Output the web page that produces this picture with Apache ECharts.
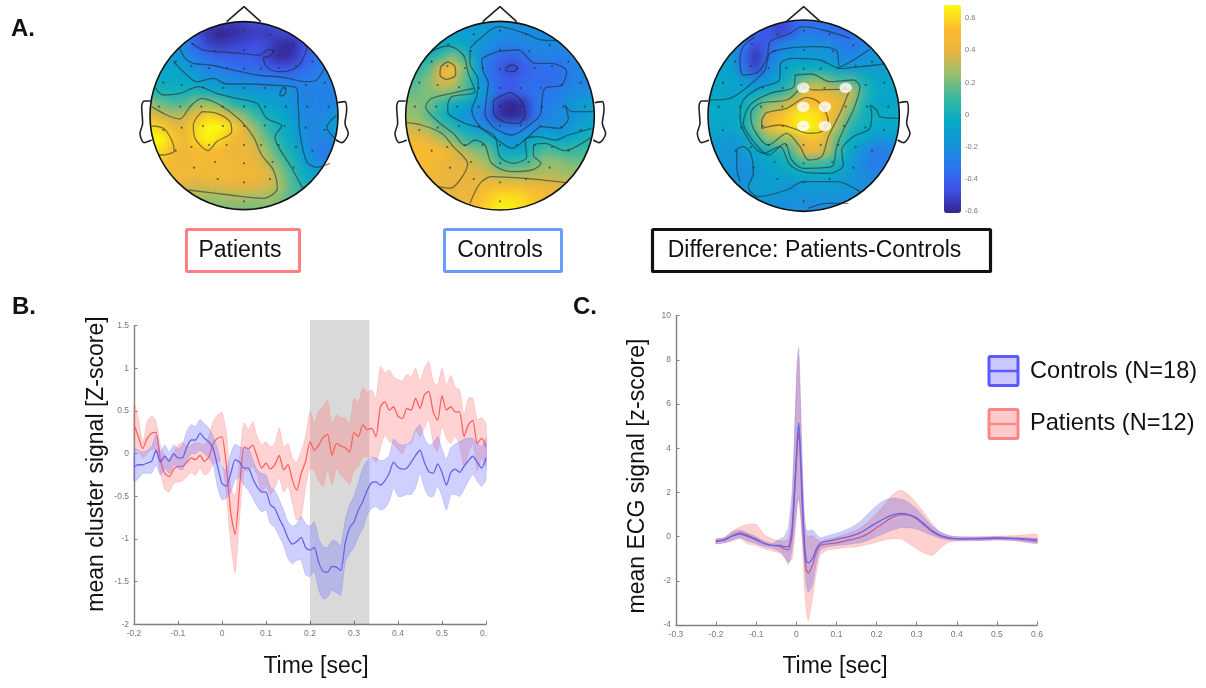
<!DOCTYPE html>
<html>
<head>
<meta charset="utf-8">
<script src="https://cdn.jsdelivr.net/npm/echarts@6/dist/echarts.min.js"></script>
<style>
html,body{margin:0;padding:0;background:#fff}
#chart{width:1206px;height:688px;isolation:isolate}
</style>
</head>
<body>
<div id="chart"></div>
<script>
// ---------- Panel A: scalp maps, values x100, 17 x 17 nodes, top row first
const patientsMap = [
[-30,-30,-35,-40,-45,-50,-52,-55,-52,-50,-48,-45,-42,-40,-35,-30,-30],
[-25,-25,-30,-35,-45,-58,-62,-60,-56,-54,-55,-52,-50,-48,-40,-35,-30],
[-20,-20,-22,-28,-42,-52,-55,-52,-50,-48,-50,-58,-60,-50,-38,-32,-30],
[-15,-15,-12,-22,-32,-38,-42,-43,-42,-44,-52,-60,-58,-48,-38,-32,-30],
[-12,-10,-8,-12,-22,-28,-32,-36,-38,-38,-42,-46,-45,-40,-34,-30,-28],
[-5,-5,-6,-5,-10,-18,-20,-24,-24,-26,-28,-30,-32,-30,-28,-28,-28],
[5,3,0,0,3,-2,-8,-12,-14,-16,-18,-16,-20,-28,-28,-28,-28],
[25,18,12,14,25,25,18,5,0,-4,-10,-12,-18,-26,-28,-28,-28],
[42,36,30,34,44,58,52,34,22,8,0,-4,-14,-24,-26,-24,-15],
[62,56,44,42,60,70,70,58,40,22,8,-2,-8,-22,-26,-18,-12],
[70,68,56,44,60,68,60,46,42,32,16,4,-6,-20,-28,-26,-22],
[66,60,48,44,48,50,46,42,44,38,24,10,0,-14,-28,-32,-30],
[52,50,46,45,47,47,46,44,44,42,33,18,5,-8,-20,-28,-30],
[47,46,45,45,46,47,47,46,46,44,40,26,12,-2,-10,-15,-20],
[40,40,38,38,35,37,38,40,40,38,36,30,15,3,-2,-5,-8],
[30,30,28,28,28,26,26,28,28,26,28,22,14,8,3,0,0],
[25,25,22,22,22,22,20,20,20,20,20,18,14,10,5,3,0]];
const controlsMap = [
[-18,-18,-16,-16,-16,-18,-18,-18,-18,-20,-22,-22,-24,-24,-24,-24,-24],
[-10,-10,-10,-10,-12,-12,-12,-14,-20,-22,-24,-22,-24,-24,-24,-24,-24],
[-6,-6,-6,-5,-2,-8,-16,-20,-28,-28,-26,-24,-24,-24,-24,-24,-24],
[0,-2,0,10,22,8,-14,-30,-38,-42,-38,-30,-28,-30,-28,-26,-24],
[5,5,15,40,50,22,-6,-36,-44,-52,-44,-38,-36,-36,-30,-26,-24],
[10,14,22,38,36,16,-4,-30,-42,-44,-40,-38,-38,-36,-30,-26,-24],
[16,18,22,25,22,14,-6,-22,-40,-46,-38,-34,-34,-30,-26,-24,-22],
[22,22,18,8,-2,-8,-16,-30,-56,-62,-56,-36,-30,-26,-16,-12,-10],
[25,24,14,2,-8,-18,-26,-40,-58,-64,-58,-36,-28,-22,-22,-16,-10],
[36,32,26,14,4,-6,-16,-24,-32,-36,-32,-26,-22,-22,-16,-8,-6],
[46,44,38,30,22,8,2,2,-12,-20,-14,-4,-4,-8,-6,0,4],
[50,50,50,50,40,30,22,18,-2,-8,-6,8,14,10,8,10,12],
[48,50,48,44,40,38,32,26,10,8,10,18,24,24,20,18,18],
[45,46,44,42,40,40,38,35,30,28,28,30,30,28,26,26,26],
[42,42,42,40,40,40,42,48,50,48,46,44,40,38,38,36,36],
[40,40,40,40,40,42,48,56,62,62,60,54,50,46,42,40,40],
[40,40,40,40,42,46,52,60,66,66,62,56,50,46,42,40,40]];
const differenceMap = [
[-26,-28,-30,-34,-38,-44,-50,-44,-38,-38,-36,-36,-34,-32,-28,-26,-24],
[-22,-22,-24,-28,-40,-46,-52,-44,-30,-34,-36,-38,-36,-32,-28,-26,-24],
[-16,-18,-20,-32,-48,-44,-30,-24,-22,-22,-22,-32,-34,-30,-24,-22,-20],
[-12,-14,-16,-38,-56,-38,-22,-18,-16,-16,-16,-24,-26,-22,-18,-16,-14],
[-10,-10,-12,-36,-52,-30,-14,-4,-4,-4,-6,-14,-16,-14,-14,-12,-12],
[-6,-6,-8,-16,-24,-18,-8,2,18,22,18,10,12,0,-6,-8,-8],
[-8,-8,-10,-8,-8,-2,4,14,36,46,38,32,34,10,-4,-8,-8],
[-6,-6,-6,-2,8,22,26,40,52,52,50,46,26,2,-8,-8,-8],
[-6,-6,-6,-2,14,40,52,60,66,62,54,36,14,0,-2,-4,-6],
[-6,-8,-8,-2,18,42,56,60,66,66,52,24,4,-2,-6,-6,-6],
[-12,-14,-16,-10,4,22,24,28,48,50,36,12,-4,-8,-16,-18,-14],
[-14,-16,-16,-14,-6,-4,2,12,38,42,30,8,-8,-22,-32,-30,-24],
[-14,-16,-18,-22,-14,-8,-6,2,10,12,8,-2,-14,-26,-32,-30,-24],
[-14,-16,-18,-22,-16,-12,-10,-8,-6,-6,-6,-10,-16,-22,-26,-24,-20],
[-14,-16,-18,-20,-12,-10,-14,-18,-16,-14,-14,-16,-18,-22,-22,-20,-18],
[-16,-18,-18,-20,-18,-16,-18,-20,-20,-20,-20,-20,-20,-20,-20,-20,-20],
[-18,-18,-18,-20,-20,-20,-22,-22,-24,-24,-24,-22,-22,-20,-20,-20,-20]];

const patientsContours = [
[[185,130],[215,148],[255,155],[330,160],[390,165],[415,148],[432,152],[420,168],[400,175],[410,200],[445,215],[490,208],[515,185],[532,140]],
[[150,145],[165,175],[190,190],[240,195],[300,208],[380,225],[460,232],[530,245],[560,240],[583,205]],
[[130,185],[165,220],[200,245],[250,235],[290,252],[350,252],[420,255],[500,265],[505,320],[510,400],[530,485],[560,502],[600,490]],
[[450,280],[460,262],[468,270],[462,285],[450,288],[450,280]],
[[75,262],[100,285],[150,280],[205,260],[260,280],[320,295],[380,310],[410,355],[455,378],[435,410],[445,440],[480,495],[518,565]],
[[65,320],[110,345],[150,357],[180,320],[215,295],[270,315],[330,360],[370,410],[395,465],[430,510],[442,565],[400,595],[300,585],[175,570]],
[[215,335],[190,375],[195,415],[235,452],[260,425],[305,395],[300,365],[260,340],[215,335]],
[[65,378],[100,385],[125,420],[133,452],[100,465],[85,465]],
[[620,345],[590,382],[620,420]]];
const controlsContours = [
[[255,145],[280,120],[340,80],[420,100],[470,120],[520,122]],
[[290,175],[340,155],[400,150],[450,190],[500,190],[545,215],[530,255],[480,265],[470,310],[465,345],[420,385],[380,405],[330,385],[300,340],[305,290],[310,250],[295,215],[290,175]],
[[345,290],[375,278],[410,305],[420,345],[400,370],[355,365],[325,335],[325,305],[345,290]],
[[362,205],[380,195],[398,203],[385,215],[365,213],[362,205]],
[[255,150],[255,190],[280,240],[275,290],[260,330],[285,380],[345,425],[380,445],[430,410],[470,380],[520,385],[550,355],[540,315],[560,335],[625,335]],
[[110,190],[140,155],[190,138],[235,165],[250,220],[270,275],[200,290],[188,320],[190,340],[240,370],[290,385],[330,410],[345,470],[385,490],[425,470],[420,420],[460,410],[510,420],[550,405],[620,385]],
[[265,265],[200,280],[140,295],[122,320],[160,365],[205,400],[240,437],[270,420],[300,435],[320,490],[380,515],[440,510],[468,490],[445,465],[447,435],[480,430],[540,452],[620,410]],
[[188,185],[210,200],[212,225],[185,238],[165,225],[168,200],[188,185]],
[[65,368],[110,375],[170,400],[205,440],[248,492],[225,540],[195,565],[160,560]],
[[255,610],[285,550],[320,530],[420,535],[545,548]]];
const differenceContours = [
[[225,110],[190,140],[180,180],[190,225],[235,215],[262,170],[270,125],[330,100],[365,80],[430,90],[510,115]],
[[570,148],[520,180],[480,200],[468,150],[400,140],[320,145],[270,160],[255,210],[215,250],[150,295],[90,300]],
[[610,192],[540,200],[480,205],[420,180],[340,175],[302,190],[298,240],[235,265],[190,300],[180,350],[200,410],[250,460],[300,440],[330,495],[380,518],[450,520],[490,495],[485,450],[520,410],[570,385],[575,340],[570,315],[590,330],[600,350],[655,355]],
[[345,225],[395,222],[450,245],[520,240],[540,260],[520,330],[490,390],[470,440],[455,500],[370,505],[335,480],[315,430],[265,465],[225,430],[190,370],[210,315],[270,280],[340,262],[345,225]],
[[360,250],[400,270],[470,268],[510,268],[480,340],[445,410],[425,470],[385,480],[360,440],[320,400],[265,435],[220,385],[212,340],[240,310],[320,300],[355,270],[360,250]],
[[245,360],[260,338],[320,325],[380,292],[420,310],[445,365],[425,395],[385,400],[340,385],[300,375],[245,385],[245,360]],
[[180,545],[170,500],[170,450],[190,440],[212,460],[220,520],[205,560],[235,590],[320,570],[370,545],[470,545],[540,575]],
[[385,625],[440,610],[505,610]]];

const electrodes = [[263,103],[342,92],[420,103],[187,132],[491,136],[255,153],[342,150],[430,153],[137,185],[184,198],[237,204],[290,204],[342,206],[393,206],[446,204],[498,198],[547,185],[100,248],[155,255],[219,262],[279,264],[342,264],[404,264],[465,264],[528,255],[584,248],[87,320],[151,320],[214,320],[278,320],[342,320],[405,320],[468,320],[532,320],[596,320],[100,390],[155,383],[219,378],[279,378],[342,378],[404,376],[463,378],[527,383],[584,390],[137,452],[184,441],[237,435],[290,435],[342,435],[393,435],[446,435],[498,441],[547,452],[192,503],[255,486],[342,490],[428,486],[491,503],[263,537],[342,547],[420,537],[342,604]];
const clusterSites = [[370,263],[497,263],[370,320],[435,320],[370,378],[435,378]];
const noseOutline = [[290,65],[342,20],[392,65]];
const leftEarOutline = [[62,303],[42,303],[35,320],[38,370],[30,400],[42,428],[65,420]];
const rightEarOutline = [[622,308],[645,305],[650,330],[645,370],[655,400],[635,428],[618,420]];
const colorbarTicks = [-0.6,-0.4,-0.2,0,0.2,0.4,0.6];
const parula = ['#33248c','#3f52e8','#2a78ee','#1493d8','#05abc4','#3cb8a0','#96bf6e','#e8b43e','#fdbd2c','#f9fb0e'];

// ---------- Panel B: mean cluster signal
const timeB = [-0.2,-0.19,-0.18,-0.17,-0.16,-0.15,-0.14,-0.13,-0.12,-0.11,-0.1,-0.09,-0.08,-0.07,-0.06,-0.05,-0.04,-0.03,-0.02,-0.01,0,0.01,0.02,0.03,0.04,0.05,0.06,0.07,0.08,0.09,0.1,0.11,0.12,0.13,0.14,0.15,0.16,0.17,0.18,0.19,0.2,0.21,0.22,0.23,0.24,0.25,0.26,0.27,0.28,0.29,0.3,0.31,0.32,0.33,0.34,0.35,0.36,0.37,0.38,0.39,0.4,0.41,0.42,0.43,0.44,0.45,0.46,0.47,0.48,0.49,0.5,0.51,0.52,0.53,0.54,0.55,0.56,0.57,0.58,0.59,0.6];
const patientsMeanB = [0.34,0.2,0.06,0.18,0.24,0.25,-0.07,-0.23,-0.27,-0.18,-0.15,-0.15,-0.1,-0.05,-0.07,-0.02,-0.09,-0.04,0.12,0.18,0.2,-0.15,-0.7,-0.95,-0.39,0.08,0.06,0.1,-0.04,-0.17,-0.11,-0.18,-0.13,-0.02,-0.19,-0.13,-0.31,-0.43,-0.23,-0.09,0.14,0.04,0.1,0.19,0.23,-0.02,0.12,0.09,0.07,0.02,0.25,0.2,0.34,0.28,0.3,0.2,0.55,0.61,0.51,0.55,0.44,0.41,0.53,0.51,0.65,0.53,0.69,0.73,0.49,0.39,0.68,0.51,0.55,0.49,0.49,0.2,0.34,0.39,0.12,0.18,0.08];
const patientsUpperB = [0.59,0.42,0.13,0.38,0.44,0.38,0.1,-0.02,-0.06,0.02,0.1,0.13,0.08,0.1,0.13,0.12,0.1,0.2,0.38,0.45,0.48,0.25,-0.4,-0.5,-0.05,0.36,0.28,0.37,0.2,0.1,0.14,0.08,0.12,0.3,0.08,0.12,-0.05,-0.1,0.03,0.2,0.5,0.36,0.5,0.55,0.62,0.35,0.45,0.42,0.42,0.35,0.65,0.6,0.77,0.72,0.75,0.65,1.02,0.95,0.98,0.9,0.87,0.85,0.93,0.9,1.0,0.85,1.0,1.08,0.85,0.8,1.0,0.8,0.92,0.78,0.75,0.45,0.65,0.65,0.4,0.42,0.35];
const patientsLowerB = [0.05,0.03,-0.05,0,0.05,0.05,-0.22,-0.42,-0.45,-0.35,-0.33,-0.32,-0.27,-0.22,-0.25,-0.17,-0.25,-0.22,-0.12,-0.1,-0.08,-0.5,-1.05,-1.4,-0.75,-0.2,-0.2,-0.15,-0.25,-0.45,-0.38,-0.48,-0.4,-0.28,-0.45,-0.38,-0.58,-0.78,-0.74,-0.4,-0.17,-0.2,-0.32,-0.38,-0.17,-0.36,-0.17,-0.25,-0.3,-0.36,-0.19,-0.15,-0.04,-0.04,-0.03,-0.1,0.06,0.22,0.14,0.12,0.05,0,0.12,0.12,0.28,0.2,0.3,0.4,0.12,0.02,0.32,0.18,0.12,0.2,0.1,-0.15,0,0.12,-0.2,-0.05,-0.15];
const controlsMeanB = [-0.15,-0.13,-0.13,-0.11,-0.09,0.04,-0.1,-0.03,-0.09,0,-0.05,-0.05,0.08,0.16,0.16,0.24,0.18,0.14,0.06,-0.15,-0.35,-0.38,-0.23,-0.07,-0.1,-0.17,-0.17,-0.29,-0.39,-0.45,-0.45,-0.6,-0.64,-0.76,-0.86,-0.99,-1.06,-1.03,-0.98,-1.1,-1.13,-1.1,-1.28,-1.38,-1.39,-1.32,-1.33,-1.37,-1.05,-0.87,-0.8,-0.66,-0.56,-0.43,-0.34,-0.33,-0.37,-0.32,-0.23,-0.1,-0.16,-0.18,-0.17,-0.1,-0.02,0.04,-0.1,-0.21,-0.23,-0.12,-0.22,-0.37,-0.22,-0.18,-0.22,-0.15,-0.08,-0.03,-0.1,-0.17,-0.05];
const controlsUpperB = [0.06,0.04,0.02,0.04,0.08,0.22,0.02,0.1,0.02,0.1,0.06,0.1,0.26,0.34,0.32,0.4,0.35,0.3,0.2,0.06,-0.15,-0.19,0,0.11,0.08,0.06,0.06,-0.07,-0.19,-0.23,-0.25,-0.39,-0.43,-0.54,-0.66,-0.8,-0.85,-0.82,-0.74,-0.82,-0.85,-0.8,-1,-1.09,-1.1,-1.02,-1.03,-1.08,-0.78,-0.6,-0.5,-0.34,-0.17,-0.08,-0.04,-0.05,-0.08,-0.07,-0.02,0.17,0.12,0.1,0.11,0.14,0.28,0.34,0.18,0.1,0.12,0.2,0.05,-0.07,0.07,0.11,0.14,0.17,0.18,0.18,0.13,0.08,0.18];
const controlsLowerB = [-0.33,-0.29,-0.23,-0.23,-0.23,-0.13,-0.25,-0.17,-0.23,-0.13,-0.17,-0.19,-0.07,0,0,0.04,0,-0.05,-0.13,-0.39,-0.54,-0.52,-0.45,-0.31,-0.27,-0.37,-0.43,-0.52,-0.62,-0.68,-0.66,-0.82,-0.86,-0.97,-1.07,-1.23,-1.29,-1.25,-1.25,-1.42,-1.44,-1.38,-1.6,-1.7,-1.68,-1.6,-1.63,-1.66,-1.28,-1.17,-1.1,-0.97,-0.88,-0.72,-0.64,-0.62,-0.66,-0.64,-0.56,-0.4,-0.5,-0.5,-0.48,-0.48,-0.4,-0.23,-0.4,-0.5,-0.5,-0.38,-0.5,-0.66,-0.48,-0.48,-0.5,-0.42,-0.32,-0.24,-0.32,-0.38,-0.3];
const clusterWindow = [0.2,0.335];

// ---------- Panel C: mean ECG signal
const timeC = [-0.2,-0.18,-0.16,-0.14,-0.12,-0.1,-0.08,-0.06,-0.04,-0.03,-0.02,-0.015,-0.01,-0.005,0,0.003,0.006,0.01,0.015,0.02,0.025,0.03,0.04,0.05,0.06,0.08,0.1,0.12,0.14,0.16,0.18,0.2,0.22,0.24,0.26,0.28,0.3,0.32,0.34,0.36,0.38,0.4,0.45,0.5,0.55,0.6];
const controlsMeanC = [-0.22,-0.15,0.02,0.12,0,-0.15,-0.32,-0.4,-0.4,-0.45,-0.45,-0.2,0.5,2,3.6,4.6,5.15,4,1.8,-0.2,-1.1,-1.2,-1,-0.55,-0.3,-0.2,-0.12,-0.05,0.05,0.18,0.4,0.62,0.82,0.98,1.05,1,0.85,0.55,0.25,0.05,-0.05,-0.1,-0.1,-0.08,-0.1,-0.2];
const controlsUpperC = [-0.12,-0.05,0.2,0.3,0.15,0,-0.2,-0.3,-0.1,0,0.4,1.2,2.2,4.5,7,8.2,8.55,6.5,3.2,1,0.3,0.25,0.3,0.1,-0.05,0.05,0.15,0.28,0.45,0.7,1.05,1.4,1.65,1.75,1.7,1.55,1.25,0.85,0.45,0.2,0.05,0,-0.02,0,-0.03,-0.1];
const controlsLowerC = [-0.32,-0.28,-0.15,-0.05,-0.2,-0.32,-0.45,-0.52,-0.7,-0.9,-1.25,-1,-0.5,0.2,1,1.6,1.8,1.2,0,-1.2,-2.2,-2.5,-2.2,-1.2,-0.6,-0.45,-0.4,-0.38,-0.32,-0.28,-0.15,0,0.15,0.3,0.4,0.4,0.35,0.2,0.05,-0.08,-0.15,-0.18,-0.18,-0.15,-0.18,-0.3];
const patientsMeanC = [-0.2,-0.15,0.05,0.18,0.05,-0.1,-0.3,-0.4,-0.45,-0.55,-0.6,-0.4,0.2,1.7,3.3,4.3,4.7,3.6,1.2,-0.6,-1.5,-1.65,-1.3,-0.7,-0.4,-0.33,-0.28,-0.2,-0.12,-0.02,0.15,0.4,0.65,0.88,1,0.98,0.8,0.5,0.2,0.02,-0.08,-0.1,-0.08,-0.05,-0.08,-0.12];
const patientsUpperC = [-0.1,-0.05,0.25,0.45,0.55,0.55,0.1,-0.1,-0.2,-0.2,-0.1,0.5,1.6,4,6.8,7.9,8.2,6.2,3,0.6,0.1,0,0.05,-0.1,-0.2,-0.1,-0.02,0.1,0.22,0.4,0.7,1.05,1.45,1.9,2.1,1.9,1.5,1.05,0.55,0.2,0.05,0,0,0.02,0.05,0.1];
const patientsLowerC = [-0.32,-0.28,-0.2,-0.1,-0.35,-0.4,-0.55,-0.65,-0.75,-0.95,-1.15,-1.1,-1,-0.2,1,1.5,1.7,1,-0.3,-2.2,-3.4,-3.8,-2.8,-1.6,-0.8,-0.6,-0.55,-0.5,-0.48,-0.42,-0.35,-0.25,-0.15,-0.1,-0.1,-0.3,-0.55,-0.75,-0.85,-0.5,-0.25,-0.2,-0.18,-0.15,-0.2,-0.3];

// ---------- Layout of the three heads (crop-sized overlay grids)
const heads = [
 {map:patientsMap,contours:patientsContours,left:130,cx:342,cy:347,r:282,dxN:0,dxL:0,dxR:0,dxE:0},
 {map:controlsMap,contours:controlsContours,left:385,cx:345,cy:347,r:283,dxN:3,dxL:0,dxR:7,dxE:3},
 {map:differenceMap,contours:differenceContours,left:680,cx:371,cy:347,r:287,dxN:29,dxL:22,dxR:35,dxE:29}
];
const FONT='"Liberation Sans",Arial,sans-serif';
const TICK='#808080';
const grids=[],xAxes=[],yAxes=[],series=[];
const cats=Array.from({length:17},(_,i)=>i);

heads.forEach((h)=>{
  const R=h.r/3, half=R*1.0625, gi=grids.length;
  grids.push({left:h.left+h.cx/3-half,top:h.cy/3-half,width:2*half,height:2*half});
  xAxes.push({type:'category',gridIndex:gi,data:cats,show:false});
  yAxes.push({type:'category',gridIndex:gi,data:cats,inverse:true,show:false});
  const cells=[];
  h.map.forEach((row,j)=>row.forEach((v,i)=>{
    const u=(i-8)/8,w=(j-8)/8;
    if(u*u+w*w<=1.15*1.15) cells.push([i,j,v/100]);
  }));
  series.push({type:'heatmap',xAxisIndex:gi,yAxisIndex:gi,data:cells,zlevel:-1,silent:true,progressive:0,itemStyle:{borderWidth:0}});
});
const lineBase={type:'line',showSymbol:false,silent:true,animation:false,clip:false};
heads.forEach((h,k)=>{
  const gi=grids.length;
  grids.push({left:h.left,top:0,width:240,height:220});
  xAxes.push({type:'value',gridIndex:gi,min:0,max:720,show:false});
  yAxes.push({type:'value',gridIndex:gi,min:0,max:660,inverse:true,show:false});
  const common={xAxisIndex:gi,yAxisIndex:gi};
  series.push({type:'custom',...common,silent:true,z:2,clip:false,data:[[h.cx,h.cy,h.r]],
    encode:{x:0,y:1},
    renderItem:(p,api)=>{
      const c=api.coord([api.value(0),api.value(1)]),rr=api.size([api.value(2),0])[0];
      return {type:'circle',shape:{cx:c[0],cy:c[1],r:rr+18},style:{fill:'none',stroke:'#fff',lineWidth:36}};
    }});
  h.contours.forEach(c=>series.push({...lineBase,...common,z:3,data:c,smooth:0.3,
    lineStyle:{color:'rgba(25,40,45,0.55)',width:1.3}}));
  series.push({type:'custom',...common,silent:true,z:4,clip:false,data:[[h.cx,h.cy,h.r]],
    encode:{x:0,y:1},
    renderItem:(p,api)=>{
      const c=api.coord([api.value(0),api.value(1)]),rr=api.size([api.value(2),0])[0];
      return {type:'circle',shape:{cx:c[0],cy:c[1],r:rr},style:{fill:'none',stroke:'#111',lineWidth:1.6}};
    }});
  series.push({...lineBase,...common,z:4,data:noseOutline.map(([x,y])=>[x+h.dxN,y]),lineStyle:{color:'#222',width:1.6}});
  series.push({...lineBase,...common,z:4,smooth:0.3,data:leftEarOutline.map(([x,y])=>[x+h.dxL,y]),lineStyle:{color:'#222',width:1.6}});
  series.push({...lineBase,...common,z:4,smooth:0.3,data:rightEarOutline.map(([x,y])=>[x+h.dxR,y]),lineStyle:{color:'#222',width:1.6}});
  series.push({type:'scatter',...common,z:5,silent:true,symbolSize:2.2,data:electrodes.map(([x,y])=>[x+h.dxE,y]),itemStyle:{color:'rgba(40,40,40,0.8)'}});
  if(k===2) series.push({type:'scatter',...common,z:6,silent:true,symbolSize:[12.5,10.5],data:clusterSites,itemStyle:{color:'#fff'}});
});

const axisStyle=()=>({
  axisLine:{show:true,onZero:false,lineStyle:{color:TICK,width:1.4}},
  axisTick:{show:true,inside:true,length:3.5,lineStyle:{color:TICK,width:1}},
  axisLabel:{color:'#777',fontSize:8.5,fontFamily:FONT,margin:5,showMinLabel:true,showMaxLabel:true},
  splitLine:{show:false}
});
function addBand(t,mean,lower,upper,gi,name,line,fill,edge,z){
  const rows=t.map((x,i)=>[x,lower[i],upper[i]]);
  series.push({type:'custom',name:name+' band',xAxisIndex:gi,yAxisIndex:gi,z,silent:true,clip:false,
    data:rows,encode:{x:0,y:[1,2]},
    renderItem:(p,api)=>{
      if(p.dataIndex!==0) return null;
      const top=rows.map(r=>api.coord([r[0],r[2]]));
      const bot=rows.map(r=>api.coord([r[0],r[1]])).reverse();
      return {type:'polygon',shape:{points:top.concat(bot),smooth:0.2},style:{fill,stroke:edge,lineWidth:0.8}};
    }});
  series.push({...lineBase,name:name+' mean',xAxisIndex:gi,yAxisIndex:gi,z:z+1,data:t.map((x,i)=>[x,mean[i]]),smooth:0.2,lineStyle:{color:line,width:1.3}});
}

// Panel B
let gi=grids.length;
grids.push({left:134,top:325.7,width:352,height:298.6});
xAxes.push({type:'value',gridIndex:gi,min:-0.2,max:0.6,interval:0.1,...axisStyle()});
yAxes.push({type:'value',gridIndex:gi,min:-2,max:1.5,interval:0.5,...axisStyle()});
addBand(timeB,patientsMeanB,patientsLowerB,patientsUpperB,gi,'Patients','#ff6060','rgba(255,110,110,0.3)','rgba(255,110,110,0.3)',3);
addBand(timeB,controlsMeanB,controlsLowerB,controlsUpperB,gi,'Controls','#6464ee','rgba(110,110,255,0.32)','rgba(110,110,255,0.35)',5);
gi=grids.length;
grids.push({left:134,top:320,width:352,height:304.3});
xAxes.push({type:'value',gridIndex:gi,min:-0.2,max:0.6,show:false});
yAxes.push({type:'value',gridIndex:gi,min:-2,max:1.567,show:false});
series.push({type:'line',xAxisIndex:gi,yAxisIndex:gi,z:9,data:[],silent:true,
  markArea:{silent:true,itemStyle:{color:'rgba(0,0,0,0.15)'},
    data:[[{xAxis:clusterWindow[0],yAxis:-2},{xAxis:clusterWindow[1],yAxis:1.567}]]}});

// Panel C
gi=grids.length;
grids.push({left:676,top:315.7,width:361,height:309.3});
xAxes.push({type:'value',gridIndex:gi,min:-0.3,max:0.6,interval:0.1,...axisStyle()});
yAxes.push({type:'value',gridIndex:gi,min:-4,max:10,interval:2,...axisStyle()});
addBand(timeC,patientsMeanC,patientsLowerC,patientsUpperC,gi,'Patients','#e8606a','rgba(255,100,100,0.3)','rgba(255,100,100,0.25)',3);
addBand(timeC,controlsMeanC,controlsLowerC,controlsUpperC,gi,'Controls','#6464ee','rgba(90,90,230,0.3)','rgba(90,90,230,0.25)',5);

// Colour bar tick labels
gi=grids.length;
grids.push({left:944,top:18.3,width:17,height:192.7});
xAxes.push({type:'value',gridIndex:gi,min:0,max:1,show:false});
yAxes.push({type:'value',gridIndex:gi,position:'right',min:-0.6,max:0.6,interval:0.2,
  axisLine:{show:false},axisTick:{show:false},splitLine:{show:false},
  axisLabel:{color:'#777',fontSize:7.5,fontFamily:FONT,margin:4,showMinLabel:true,showMaxLabel:true}});
series.push({type:'scatter',xAxisIndex:gi,yAxisIndex:gi,data:colorbarTicks.map(v=>[0,v]),symbolSize:0,silent:true});

function txt(text,x,y,size,extra={},styleExtra={}){
  return {type:'text',x,y,z:100,silent:true,...extra,
    style:{text,font:`${size}px ${FONT}`,fill:'#111',textAlign:'center',textVerticalAlign:'middle',...styleExtra}};
}
function box(x,y,w,h,stroke,lw){
  return {type:'rect',z:99,silent:true,shape:{x,y,width:w,height:h,r:1},style:{fill:'#fff',stroke,lineWidth:lw}};
}
function swatch(y,fill,stroke){
  return [
    {type:'rect',z:99,silent:true,shape:{x:989,y,width:29,height:29,r:1.5},style:{fill,stroke,lineWidth:3}},
    {type:'line',z:99,silent:true,shape:{x1:989,y1:y+14.5,x2:1018,y2:y+14.5},style:{stroke,lineWidth:2.5}}
  ];
}
const graphic=[
  txt('A.',23,29,24,{},{font:`bold 24px ${FONT}`}),
  txt('B.',24,307,24,{},{font:`bold 24px ${FONT}`}),
  txt('C.',585,307,24,{},{font:`bold 24px ${FONT}`}),
  box(186.5,229.5,113,42,'#ff8083',3),
  txt('Patients',240,250.5,23),
  box(444.5,229.5,117,42,'#6a9bff',3),
  txt('Controls',500,250.5,23),
  box(652.5,229.5,338,42,'#111',3.2),
  txt('Difference: Patients-Controls',814.5,250.5,23),
  txt('mean cluster signal [Z-score]',97,464,23,{rotation:Math.PI/2}),
  txt('Time [sec]',316,667,23),
  txt('mean ECG signal [z-score]',638,476,23,{rotation:Math.PI/2}),
  txt('Time [sec]',835,667,23),
  ...swatch(356.5,'#c9c9ff','#5a5aff'),
  ...swatch(409.5,'#ffcaca','#ff8585'),
  txt('Controls (N=18)',1030,371,23.6,{},{textAlign:'left'}),
  txt('Patients (N=12)',1030,423,23.6,{},{textAlign:'left'}),
  {type:'rect',z:101,silent:true,shape:{x:487.5,y:628,width:12,height:16},style:{fill:'#fff'}}
];

const chart=echarts.init(document.getElementById('chart'),null,{renderer:'canvas'});
chart.setOption({
  animation:false,
  backgroundColor:'transparent',
  grid:grids,xAxis:xAxes,yAxis:yAxes,series,graphic,
  visualMap:[{type:'continuous',seriesIndex:[0,1,2],min:-0.62,max:0.68,left:944,top:5,padding:0,
    itemWidth:17,itemHeight:208,calculable:false,hoverLink:false,orient:'vertical',
    inRange:{color:parula},textStyle:{fontSize:1,color:'transparent'},formatter:()=>''}]
});
// the lowest layer holds only the scalp-map cells: soften it into a continuous field
[...document.querySelectorAll('#chart canvas')].forEach((c,i)=>{
  c.style.filter = i===0 ? 'blur(4.5px)' : 'blur(0.45px)';
});
</script>
</body>
</html>
